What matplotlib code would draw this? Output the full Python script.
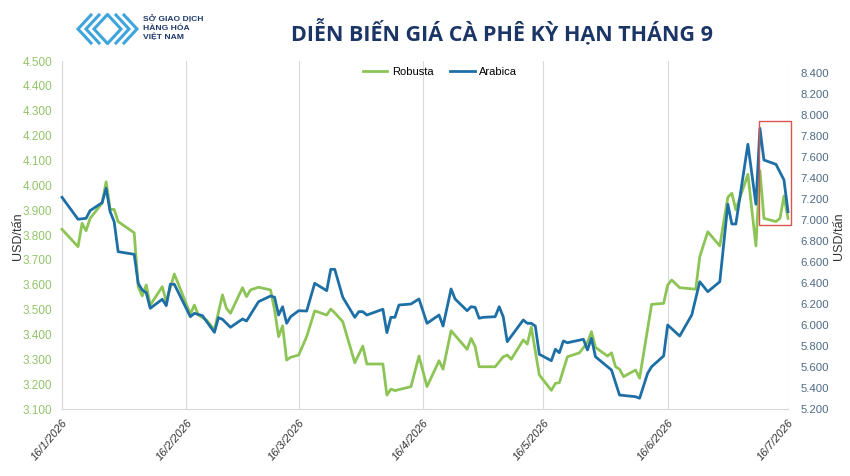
import matplotlib
matplotlib.use("Agg")
import matplotlib.pyplot as plt
import matplotlib.dates as mdates
from matplotlib.patches import Rectangle
from matplotlib.lines import Line2D
from matplotlib.ticker import FuncFormatter, FixedLocator
import pandas as pd

plt.rcParams['font.family'] = ['Liberation Sans', 'DejaVu Sans']

# ---------------- data ----------------
arabica_dates = ["01-16", "01-20", "01-22", "01-23", "01-26", "01-27", "01-28", "01-29", "01-30",
                 "02-03", "02-04", "02-05", "02-06", "02-07", "02-10", "02-11", "02-12", "02-13",
                 "02-17", "02-18", "02-20", "02-23", "02-24", "02-25", "02-27", "03-02", "03-03",
                 "03-06", "03-09", "03-10", "03-11", "03-12", "03-13", "03-14", "03-16", "03-18",
                 "03-20", "03-23", "03-24", "03-25", "03-27", "03-30", "03-31", "04-01", "04-02",
                 "04-06", "04-07", "04-08", "04-09", "04-10", "04-13", "04-15", "04-17", "04-20",
                 "04-21", "04-23", "04-24", "04-27", "04-28", "04-29", "04-30", "05-01", "05-04",
                 "05-05", "05-06", "05-07", "05-11", "05-12", "05-13", "05-14", "05-15", "05-18",
                 "05-19", "05-20", "05-21", "05-22", "05-26", "05-27", "05-28", "05-29", "06-02",
                 "06-04", "06-08", "06-09", "06-11", "06-12", "06-15", "06-16", "06-19", "06-22",
                 "06-24", "06-26", "06-29", "07-01", "07-02", "07-03", "07-06", "07-08", "07-09",
                 "07-10", "07-13", "07-15", "07-16"]
arabica_vals = [7216, 7007, 7016, 7089, 7165, 7302, 7079, 6984, 6698,
                6673, 6397, 6333, 6308, 6159, 6245, 6184, 6388, 6388,
                6079, 6111, 6089, 5930, 6070, 6054, 5978, 6057, 6038,
                6222, 6276, 6264, 6095, 6174, 6016, 6079, 6136, 6133,
                6397, 6327, 6530, 6530, 6264, 6073, 6127, 6127, 6095,
                6150, 5927, 6073, 6073, 6190, 6200, 6248, 6016, 6095,
                5990, 6343, 6248, 6136, 6174, 6168, 6064, 6073, 6079,
                6174, 6079, 5841, 6048, 6016, 6016, 5990, 5721, 5660,
                5769, 5736, 5848, 5831, 5864, 5762, 5873, 5698, 5571,
                5333, 5317, 5302, 5540, 5603, 5705, 6000, 5895, 6095,
                6412, 6317, 6412, 7150, 6962, 6962, 7721, 7150, 7873,
                7571, 7530, 7381, 7079]

robusta_dates = ["01-16", "01-20", "01-21", "01-22", "01-23", "01-26", "01-27", "01-28", "01-29",
                 "01-30", "02-03", "02-04", "02-05", "02-06", "02-07", "02-10", "02-11", "02-13",
                 "02-17", "02-18", "02-19", "02-21", "02-23", "02-25", "02-26", "02-27", "03-02",
                 "03-03", "03-04", "03-06", "03-09", "03-10", "03-11", "03-12", "03-13", "03-14",
                 "03-16", "03-18", "03-20", "03-23", "03-24", "03-25", "03-27", "03-30", "04-01",
                 "04-02", "04-06", "04-07", "04-08", "04-09", "04-13", "04-15", "04-17", "04-20",
                 "04-21", "04-23", "04-27", "04-28", "04-29", "04-30", "05-04", "05-06", "05-07",
                 "05-08", "05-11", "05-12", "05-13", "05-15", "05-18", "05-19", "05-20", "05-22",
                 "05-25", "05-27", "05-28", "05-29", "06-01", "06-02", "06-03", "06-04", "06-05",
                 "06-08", "06-09", "06-12", "06-15", "06-16", "06-17", "06-19", "06-23", "06-24",
                 "06-26", "06-29", "07-01", "07-02", "07-03", "07-06", "07-08", "07-09", "07-10",
                 "07-13", "07-14", "07-15", "07-16"]
robusta_vals = [3823, 3753, 3847, 3817, 3867, 3928, 4014, 3903, 3903,
                3854, 3809, 3592, 3555, 3599, 3518, 3592, 3532, 3643,
                3482, 3518, 3478, 3458, 3418, 3559, 3505, 3485, 3588,
                3552, 3579, 3590, 3579, 3498, 3391, 3435, 3297, 3308,
                3317, 3391, 3495, 3478, 3502, 3487, 3451, 3286, 3353,
                3281, 3281, 3156, 3180, 3174, 3190, 3313, 3190, 3294,
                3260, 3415, 3340, 3384, 3351, 3270, 3270, 3310, 3317,
                3300, 3378, 3361, 3429, 3237, 3175, 3203, 3206, 3310,
                3326, 3368, 3411, 3348, 3313, 3326, 3270, 3260, 3230,
                3257, 3224, 3521, 3525, 3599, 3619, 3588, 3582, 3713,
                3813, 3756, 3952, 3968, 3901, 4044, 3756, 4059, 3867,
                3854, 3867, 3957, 3867]

year = 2026
tick_dates = ["01-16", "02-16", "03-16", "04-16", "05-16", "06-16", "07-16"]
tick_labels = ["16/1/2026", "16/2/2026", "16/3/2026", "16/4/2026", "16/5/2026", "16/6/2026", "16/7/2026"]
left_ticks = list(range(3100, 4501, 100))
right_ticks = list(range(5200, 8401, 200))
highlight_dates = ["07-08", "07-16"]
highlight_range = [6950, 7940]

title = "DIỄN BIẾN GIÁ CÀ PHÊ KỲ HẠN THÁNG 9"
logo_lines = ["SỞ GIAO DỊCH", "HÀNG HÓA", "VIỆT NAM"]
unit_label = "USD/tấn"

# ---------------- style ----------------
c_rob = '#8DC456'
c_ara = '#1D6FA6'
c_left_tick = '#93C46A'
c_right_tick = '#4D6A86'
c_grid = '#D9D9D9'
c_title = '#1B3566'

W, H = 850, 476


def fpx(x, y):
    return (x / W, 1 - y / H)


def to_dt(mmdd):
    return pd.Timestamp(f"{year}-{mmdd}")


fig = plt.figure(figsize=(8.5, 4.76), dpi=100)
fig.patch.set_facecolor('white')

x0, x1, yt, yb = 62, 788, 61, 409
ax = fig.add_axes([x0 / W, 1 - yb / H, (x1 - x0) / W, (yb - yt) / H])
ax2 = ax.twinx()

rob_x = [to_dt(d) for d in robusta_dates]
ara_x = [to_dt(d) for d in arabica_dates]

l1, = ax.plot(rob_x, robusta_vals, color=c_rob, lw=2.0, label='Robusta', zorder=3, clip_on=False)
l2, = ax2.plot(ara_x, arabica_vals, color=c_ara, lw=2.0, label='Arabica', zorder=3, clip_on=False)

ax.set_xlim(to_dt(tick_dates[0]), to_dt(tick_dates[-1]))
ax.set_ylim(3100, 4500)
ax2.set_ylim(5200, 8514)

fmt = FuncFormatter(lambda v, p: f"{v:,.0f}".replace(",", "."))
ax.yaxis.set_major_locator(FixedLocator(left_ticks))
ax.yaxis.set_major_formatter(fmt)
ax2.yaxis.set_major_locator(FixedLocator(right_ticks))
ax2.yaxis.set_major_formatter(fmt)

tick_x = [mdates.date2num(to_dt(d)) for d in tick_dates]
ax.set_xticks(tick_x)
ax.set_xticklabels(tick_labels, rotation=50, ha='right', va='top', rotation_mode='anchor',
                   fontsize=8, fontstyle='italic', color='#333333')
ax.tick_params(axis='x', length=0, pad=6)
ax.tick_params(axis='y', length=0, pad=7, labelsize=8.5, labelcolor=c_left_tick)
ax2.tick_params(axis='y', length=0, pad=9, labelsize=8.2, labelcolor=c_right_tick)

ax.grid(axis='x', color=c_grid, lw=0.8)
ax.set_axisbelow(True)
for a in (ax, ax2):
    a.spines['top'].set_visible(False)
    a.spines['right'].set_visible(False)
    a.spines['left'].set_color(c_grid)
    a.spines['bottom'].set_color(c_grid)
ax2.spines['left'].set_visible(False)
ax2.spines['bottom'].set_visible(False)

# axis titles
fig.text(*fpx(18, 236), unit_label, fontsize=9, color='#333333', rotation=90,
         ha='center', va='center')
fig.text(*fpx(839, 236), unit_label, fontsize=9, color='#333333', rotation=90,
         ha='center', va='center')

# highlight box
hx0 = mdates.date2num(to_dt(highlight_dates[0])) + 0.7
hx1 = mdates.date2num(to_dt(highlight_dates[1])) + 0.7
rect = Rectangle((hx0, highlight_range[0]), hx1 - hx0, highlight_range[1] - highlight_range[0],
                 fill=False, edgecolor='#D9534F', lw=1.0, clip_on=False, zorder=5)
ax2.add_patch(rect)

# legend
fig.legend(handles=[l1, l2], loc='center', bbox_to_anchor=fpx(440, 72), ncol=2, frameon=False,
           fontsize=8, handlelength=2.2, columnspacing=1.5, handletextpad=0.4)

# title
fig.text(*fpx(502, 32), title, fontsize=15.5, fontweight='bold', color=c_title,
         family=['Open Sans', 'DejaVu Sans'], ha='center', va='center')

# logo chevrons
c_logo = '#3DA5DC'
cy = 29
for tip in [78, 86, 94]:
    h = 14
    fig.add_artist(Line2D([(tip + 13) / W, tip / W, (tip + 13) / W],
                          [1 - (cy - h) / H, 1 - cy / H, 1 - (cy + h) / H],
                          color=c_logo, lw=2.2, solid_joinstyle='miter'))
for tip in [137, 129, 121]:
    h = 14
    fig.add_artist(Line2D([(tip - 13) / W, tip / W, (tip - 13) / W],
                          [1 - (cy - h) / H, 1 - cy / H, 1 - (cy + h) / H],
                          color=c_logo, lw=2.2, solid_joinstyle='miter'))
for i, line in enumerate(logo_lines):
    fig.text(*fpx(143, 19 + i * 9), line, fontsize=6.1, fontweight='bold', color='#1F3A6B',
             ha='left', va='center')

fig.savefig('out.png', dpi=100)
